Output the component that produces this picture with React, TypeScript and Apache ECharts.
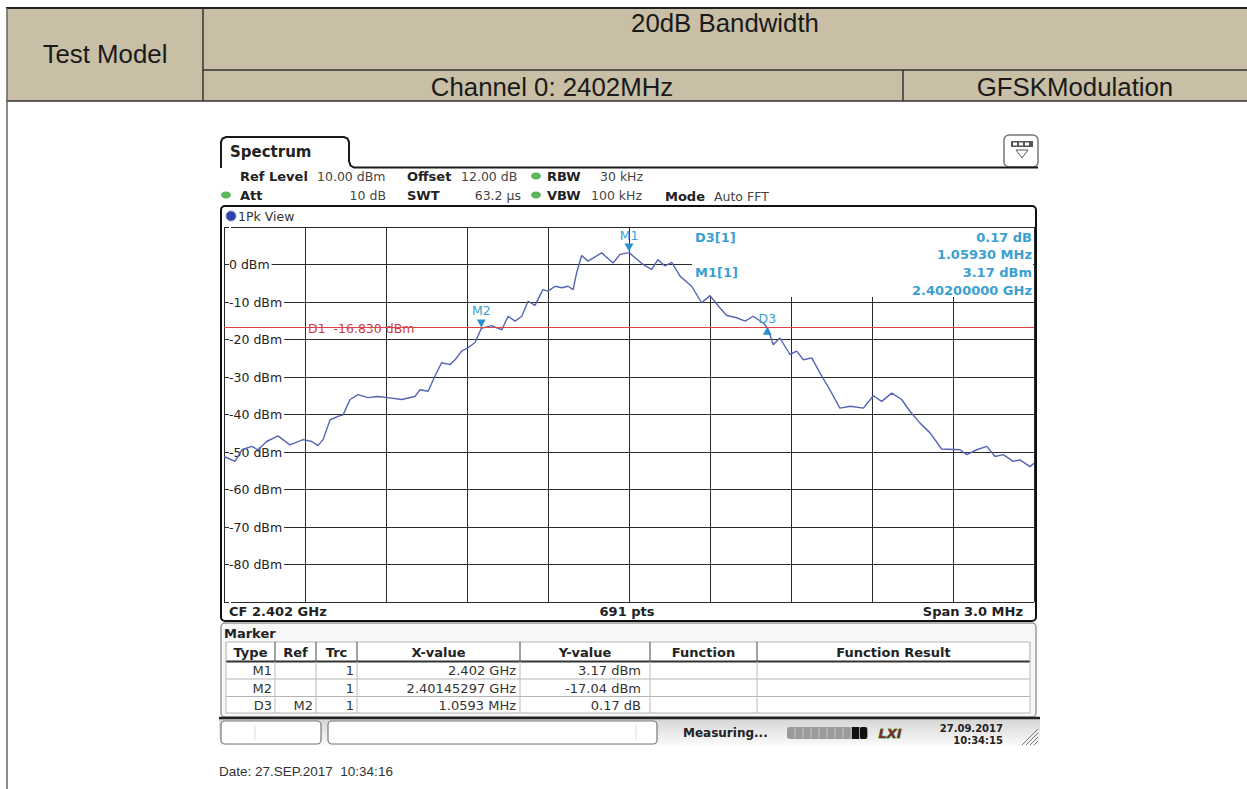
import React, { useEffect, useRef } from "react";
import * as echarts from "echarts";

// ---------- data ----------
const CENTER_MHZ = 2402;
const freqMHz = [
  2400.5, 2400.541, 2400.566, 2400.603, 2400.626, 2400.658, 2400.7, 2400.744, 2400.793, 2400.825,
  2400.848, 2400.867, 2400.893, 2400.922, 2400.941, 2400.967, 2400.996, 2401.033, 2401.07, 2401.107,
  2401.158, 2401.207, 2401.226, 2401.256, 2401.281, 2401.306, 2401.337, 2401.356, 2401.38, 2401.404,
  2401.43, 2401.453, 2401.491, 2401.529, 2401.552, 2401.578, 2401.603, 2401.626, 2401.652, 2401.681,
  2401.7, 2401.726, 2401.751, 2401.774, 2401.793, 2401.806, 2401.825, 2401.848, 2401.899, 2401.941,
  2401.967, 2402.0, 2402.052, 2402.084, 2402.107, 2402.133, 2402.158, 2402.189, 2402.232, 2402.269,
  2402.3, 2402.337, 2402.362, 2402.399, 2402.43, 2402.46, 2402.497, 2402.512, 2402.522, 2402.534,
  2402.559, 2402.596, 2402.621, 2402.646, 2402.677, 2402.707, 2402.744, 2402.781, 2402.819, 2402.868,
  2402.905, 2402.936, 2402.973, 2403.01, 2403.041, 2403.078, 2403.115, 2403.158, 2403.226, 2403.251,
  2403.288, 2403.325, 2403.356, 2403.386, 2403.423, 2403.448, 2403.485, 2403.5,
];
const levelDbm = [
  -51.2, -52.5, -49.4, -48.5, -49.4, -47.2, -45.7, -48.1, -46.7, -47.2,
  -48.3, -46.7, -41.4, -40.5, -40.1, -36.0, -34.7, -35.5, -35.2, -35.5,
  -36.0, -35.2, -33.4, -33.8, -29.8, -26.2, -26.7, -25.4, -23.1, -22.2,
  -20.8, -17.04, -16.3, -17.4, -13.8, -15.1, -13.8, -9.8, -10.9, -6.7,
  -7.1, -5.8, -6.2, -5.8, -6.7, -2.2, 2.4, 0.9, 3.1, 0.4,
  2.7, 3.17, 0.0, -1.3, 1.3, -0.4, 0.6, -3.1, -5.8, -10.2,
  -8.3, -11.6, -13.6, -14.2, -15.1, -13.8, -15.6, -16.87, -18.7, -21.4,
  -19.6, -24.0, -23.1, -25.4, -24.9, -28.9, -33.4, -38.3, -37.8, -38.3,
  -35.0, -36.5, -34.3, -36.0, -39.2, -42.3, -44.9, -49.2, -49.4, -50.7,
  -49.4, -48.5, -51.2, -50.7, -52.5, -52.1, -53.9, -53.0,
];
const yTicks = [0, -10, -20, -30, -40, -50, -60, -70, -80];
const displayLineDbm = -16.83;
const markerNames = ["M1", "M2", "D3"];
const markerFreqMHz = [2402.0, 2401.45297, 2402.51227];
const markerLevel = [3.17, -17.04, -16.87];

const tableHeaders = ["Type", "Ref", "Trc", "X-value", "Y-value", "Function", "Function Result"];
const markerRefs = ["", "", "M2"];
const markerTrc = ["1", "1", "1"];
const markerXText = ["2.402 GHz", "2.40145297 GHz", "1.0593 MHz"];
const markerYText = ["3.17 dBm", "-17.04 dBm", "0.17 dB"];

// ---------- helpers ----------
const DV = '"DejaVu Sans", Verdana, sans-serif';
const AR = '"Liberation Sans", Arial, sans-serif';
const BLUE = "#3a9fd2";

const T = (text: string, x: number, y: number, o: any = {}) => ({
  type: "text",
  x,
  y,
  z: o.z ?? 10,
  silent: true,
  style: {
    text,
    fill: o.fill ?? "#222",
    font: o.font ?? `12px ${DV}`,
    align: o.align ?? "left",
    verticalAlign: o.va ?? "middle",
  },
});
const R = (x: number, y: number, w: number, h: number, o: any = {}) => ({
  type: "rect",
  z: o.z ?? 5,
  silent: true,
  shape: { x, y, width: w, height: h, r: o.r ?? 0 },
  style: { fill: o.fill ?? "none", stroke: o.stroke ?? null, lineWidth: o.lw ?? 1 },
});
const L = (x1: number, y1: number, x2: number, y2: number, o: any = {}) => ({
  type: "line",
  z: o.z ?? 6,
  silent: true,
  shape: { x1, y1, x2, y2 },
  style: { stroke: o.stroke ?? "#222", lineWidth: o.lw ?? 1 },
});

function buildGraphics() {
  const g: any[] = [];
  const HF = `25.8px ${AR}`;
  // ---- header table ----
  g.push(R(7, 8, 1240, 93, { fill: "#c8bfa6", z: 1 }));
  g.push(L(6, 8, 1247, 8, { lw: 2, stroke: "#222" }));
  g.push(L(203, 70, 1247, 70, { lw: 1.5, stroke: "#333" }));
  g.push(L(6, 101, 1247, 101, { lw: 1.5, stroke: "#333" }));
  g.push(L(7, 8, 7, 789, { lw: 1.5, stroke: "#666" }));
  g.push(L(203, 8, 203, 101, { lw: 1.5, stroke: "#333" }));
  g.push(L(903, 70, 903, 101, { lw: 1.5, stroke: "#333" }));
  g.push(T("Test Model", 105, 54, { font: HF, align: "center", fill: "#1a1a1a" }));
  g.push(T("20dB Bandwidth", 725, 23, { font: HF, align: "center", fill: "#1a1a1a" }));
  g.push(T("Channel 0: 2402MHz", 552, 87, { font: HF, align: "center", fill: "#1a1a1a" }));
  g.push(T("GFSKModulation", 1075, 87, { font: HF, align: "center", fill: "#1a1a1a" }));

  // ---- spectrum tab ----
  g.push({
    type: "polyline",
    z: 6,
    silent: true,
    shape: {
      points: [
        [221, 168], [221, 142], [222.5, 138.5], [226, 137], [344, 137], [347.5, 138.5],
        [349, 142], [349, 161], [350.5, 165.5], [354, 167.5], [1038, 167.5],
      ],
    },
    style: { stroke: "#1a1a1a", lineWidth: 2, fill: "none" },
  });
  g.push(T("Spectrum", 230, 152, { font: `bold 15px ${DV}`, fill: "#222" }));
  // icon
  g.push(R(1004, 135, 34, 32, { r: 5, stroke: "#777", lw: 1.5, fill: "#fff" }));
  g.push(R(1011, 141, 22, 6, { fill: "#555", z: 7 }));
  [1013, 1019, 1025].forEach((x) => g.push(R(x, 142.5, 4, 3, { fill: "#fff", z: 8 })));
  g.push({
    type: "polygon", z: 7, silent: true,
    shape: { points: [[1016, 150], [1028, 150], [1022, 158]] },
    style: { fill: "#fff", stroke: "#555", lineWidth: 1 },
  });

  // ---- info rows ----
  const dot = (cx: number, cy: number) => ({
    type: "ellipse", z: 7, silent: true,
    shape: { cx, cy, rx: 5, ry: 3.5 },
    style: { fill: "#5cb85c" },
  });
  const bold = `bold 13px ${DV}`;
  const norm = `12.5px ${DV}`;
  const tnorm = `13px ${DV}`;
  g.push(T("Ref Level", 240, 176, { font: bold }));
  g.push(T("10.00 dBm", 317, 176, { font: norm, fill: "#444" }));
  g.push(T("Offset", 407, 176, { font: bold }));
  g.push(T("12.00 dB", 461, 176, { font: norm, fill: "#444" }));
  g.push(dot(536, 176));
  g.push(T("RBW", 547, 176, { font: bold }));
  g.push(T("30 kHz", 600, 176, { font: norm, fill: "#444" }));
  g.push(dot(226, 195));
  g.push(T("Att", 240, 195, { font: bold }));
  g.push(T("10 dB", 386, 195, { font: norm, fill: "#444", align: "right" }));
  g.push(T("SWT", 407, 195, { font: bold }));
  g.push(T("63.2 µs", 521, 195, { font: norm, fill: "#444", align: "right" }));
  g.push(dot(536, 195));
  g.push(T("VBW", 547, 195, { font: bold }));
  g.push(T("100 kHz", 591, 195, { font: norm, fill: "#444" }));
  g.push(T("Mode", 665, 196, { font: bold }));
  g.push(T("Auto FFT", 714, 196, { font: norm, fill: "#444" }));

  // ---- plot frame ----
  g.push(R(221, 206, 815, 415, { r: 4, stroke: "#111", lw: 2, z: 8 }));
  g.push({
    type: "circle", z: 9, silent: true,
    shape: { cx: 231, cy: 216, r: 5 },
    style: { fill: "#2f40a8", stroke: "#8895d0", lineWidth: 1 },
  });
  g.push(T("1Pk View", 238, 216, { font: norm, fill: "#333" }));
  // marker info box (behind trace, above grid)
  g.push(R(692, 228, 341, 69, { fill: "#fff", z: 1 }));
  g.push(T("D3[1]", 695, 237, { font: bold, fill: BLUE }));
  g.push(T("M1[1]", 695, 272, { font: bold, fill: BLUE }));
  g.push(T("0.17 dB", 1032, 237, { font: bold, fill: BLUE, align: "right" }));
  g.push(T("1.05930 MHz", 1032, 254.5, { font: bold, fill: BLUE, align: "right" }));
  g.push(T("3.17 dBm", 1032, 272, { font: bold, fill: BLUE, align: "right" }));
  g.push(T("2.40200000 GHz", 1032, 290, { font: bold, fill: BLUE, align: "right" }));
  g.push(T("D1  -16.830 dBm", 308, 328, { font: norm, fill: "#cc3b3b", z: 3 }));
  // footer
  g.push(T("CF 2.402 GHz", 229, 611, { font: bold }));
  g.push(T("691 pts", 627, 611, { font: bold, align: "center" }));
  g.push(T("Span 3.0 MHz", 1023, 611, { font: bold, align: "right" }));

  // ---- marker panel ----
  g.push(R(221, 623, 815, 94, { r: 4, stroke: "#999", lw: 1.5, fill: "#f7f7f7", z: 4 }));
  g.push(T("Marker", 224, 633, { font: bold }));
  const cols = [226, 275, 316, 357, 520, 650, 757, 1030];
  const pads = [3, 3, 3, 4, 9];
  const rowLines = [642, 661.5, 679, 696.5, 713];
  g.push(R(226, 642, 804, 71, { fill: "#fff", z: 5 }));
  rowLines.forEach((y, i) =>
    g.push(L(226, y, 1030, y, { stroke: i === 1 ? "#333" : "#b5b5b5", lw: i === 1 ? 2 : 1 }))
  );
  cols.forEach((x, i) => {
    g.push(L(x, 642, x, 661.5, { stroke: i === 0 || i === cols.length - 1 ? "#aaa" : "#444", lw: 1 }));
    g.push(L(x, 661.5, x, 713, { stroke: "#bbb", lw: 1 }));
  });
  tableHeaders.forEach((h, i) =>
    g.push(T(h, (cols[i] + cols[i + 1]) / 2, 652, { font: bold, align: "center" }))
  );
  const rowY = [670, 688, 705];
  markerNames.forEach((m, r) => {
    const vals = [m, markerRefs[r], markerTrc[r], markerXText[r], markerYText[r]];
    vals.forEach((v, c) => {
      if (v) g.push(T(v, cols[c + 1] - pads[c], rowY[r], { font: tnorm, fill: "#333", align: "right" }));
    });
  });

  // ---- status bar ----
  g.push({
    type: "rect", z: 4, silent: true,
    shape: { x: 219, y: 718, width: 821, height: 28 },
    style: {
      fill: {
        type: "linear", x: 0, y: 0, x2: 0, y2: 1,
        colorStops: [{ offset: 0, color: "#d4d4d4" }, { offset: 1, color: "#fbfbfb" }],
      },
    },
  });
  g.push(L(219, 718, 1040, 718, { lw: 2.5, stroke: "#222" }));
  g.push(R(221, 721, 100, 23, { r: 4, stroke: "#777", fill: "#fff", lw: 1.2 }));
  g.push(L(255, 725, 255, 740, { stroke: "#ddd" }));
  g.push(R(328, 721, 329, 23, { r: 4, stroke: "#777", fill: "#fff", lw: 1.2 }));
  g.push(L(636, 725, 636, 740, { stroke: "#ddd" }));
  g.push(T("Measuring...", 683, 733, { font: `bold 12px ${DV}` }));
  g.push(R(787, 727, 81, 12, { r: 3, fill: "#9a9a9a" }));
  for (let i = 0; i < 8; i++) g.push(L(795 + i * 8, 727, 795 + i * 8, 739, { stroke: "#c4c4c4", lw: 1 }));
  g.push(R(852, 727, 7, 12, { fill: "#111", z: 7 }));
  g.push(R(860, 727, 7, 12, { r: 2, fill: "#111", z: 7 }));
  g.push({
    type: "text", z: 9, x: 890, y: 733, silent: true,
    style: {
      text: "LXI", font: `italic bold 13px ${DV}`, fill: "#7a2a2a",
      stroke: "#4caf50", lineWidth: 0.8, align: "center", verticalAlign: "middle",
    },
  });
  g.push(T("27.09.2017", 1003, 728, { font: `bold 10px ${DV}`, align: "right" }));
  g.push(T("10:34:15", 1003, 740, { font: `bold 10px ${DV}`, align: "right" }));
  [0, 4, 8, 12].forEach((d) => g.push(L(1022 + d, 745, 1038, 729 + d, { stroke: "#777", lw: 1 })));

  // date
  g.push(T("Date: 27.SEP.2017  10:34:16", 219, 771, { font: `13.5px ${AR}`, fill: "#333" }));
  return g;
}

export default function App() {
  const ref = useRef<HTMLDivElement>(null);
  useEffect(() => {
    if (!ref.current) return;
    const chart = echarts.init(ref.current, undefined, { renderer: "svg" });
    const toKHz = (f: number) => Math.round((f - CENTER_MHZ) * 100000) / 100;
    const trace = freqMHz.map((f, i) => [toKHz(f), levelDbm[i]]);
    const markPts = markerNames.map((n, i) => {
      const down = n !== "D3";
      return {
        name: n,
        coord: [toKHz(markerFreqMHz[i]), markerLevel[i]],
        symbol: down ? "path://M0,0 L10,0 L5,9 Z" : "triangle",
        symbolSize: [9, 8],
        symbolOffset: [0, down ? -5 : 3],
        itemStyle: { color: "#2b8fd0" },
        label: {
          show: true,
          formatter: n,
          position: "top",
          distance: 2,
          color: "#3aa0d0",
          fontSize: 12.5,
          fontFamily: DV,
        },
      };
    });
    chart.setOption({
      animation: false,
      backgroundColor: "#fff",
      grid: { left: 224, top: 227, width: 810, height: 375, show: false },
      xAxis: {
        type: "value",
        min: -1500,
        max: 1500,
        interval: 300,
        axisLine: { show: false },
        axisTick: { show: false },
        axisLabel: { show: false },
        splitLine: { show: true, lineStyle: { color: "#2a2a2a", width: 1 } },
      },
      yAxis: {
        type: "value",
        min: -90,
        max: 10,
        interval: 10,
        axisLine: { show: false },
        axisTick: { show: false },
        axisLabel: {
          inside: true,
          margin: 5,
          color: "#222",
          fontSize: 12.5,
          fontFamily: DV,
          backgroundColor: "#fff",
          padding: [1, 2, 1, 0],
          formatter: (v: number) => (yTicks.includes(v) ? `${v} dBm` : ""),
        },
        splitLine: { show: true, lineStyle: { color: "#2a2a2a", width: 1 } },
      },
      graphic: { elements: buildGraphics() },
      series: [
        {
          type: "line",
          data: trace,
          showSymbol: false,
          symbol: "none",
          z: 2,
          lineStyle: { color: "#5565b5", width: 1.4 },
          markLine: {
            silent: true,
            symbol: ["none", "none"],
            label: { show: false },
            lineStyle: { color: "#dd4444", width: 1, type: "solid" },
            data: [{ yAxis: displayLineDbm }],
          },
          markPoint: { silent: true, data: markPts },
        },
      ],
    });
    return () => chart.dispose();
  }, []);
  return (
    <div
      ref={ref}
      style={{ position: "fixed", left: 0, top: 0, width: 1247, height: 789, background: "#fff" }}
    />
  );
}
